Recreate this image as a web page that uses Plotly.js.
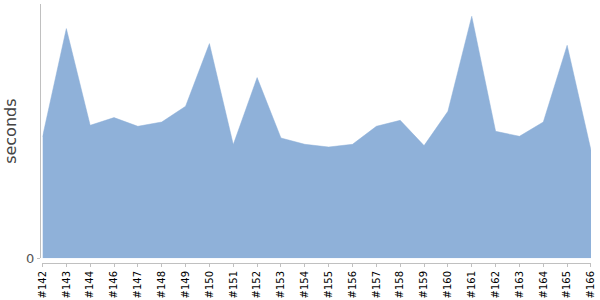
<!DOCTYPE html>
<html>
<head>
<meta charset="utf-8">
<script src="https://cdn.plot.ly/plotly-3.0.1.min.js"></script>
<style>html,body{margin:0;padding:0;background:#fff;}#chart{width:600px;height:300px;}</style>
</head>
<body>
<div id="chart"></div>
<script>
const builds = ["#142","#143","#144","#146","#147","#148","#149","#150","#151","#152","#153","#154","#155","#156","#157","#158","#159","#160","#161","#162","#163","#164","#165","#166"];
const seconds = [121.3,229.7,133,140.7,132,136.3,152,214.7,113.7,180.7,120.3,114,111.3,114,132,138,112.7,147,242,127,122,136.3,213,108];
const yTickVals = [0];
const yTickText = ["0"];

const trace = {
  x: builds,
  y: seconds,
  type: "scatter",
  mode: "lines",
  fill: "tozeroy",
  fillcolor: "rgb(143,177,217)",
  line: {color: "rgb(143,177,217)", width: 0.5},
  hoverinfo: "x+y"
};

const layout = {
  width: 600, height: 300,
  margin: {l: 40, r: 9, t: 4, b: 37},
  paper_bgcolor: "#fff", plot_bgcolor: "#fff",
  showlegend: false,
  font: {family: "DejaVu Sans, sans-serif"},
  xaxis: {
    type: "category",
    domain: [0.0045, 1],
    anchor: "free", position: 0,
    range: [0, builds.length - 1],
    showgrid: false, zeroline: false,
    showline: true, linecolor: "#c0c0c0", linewidth: 1,
    ticks: "outside", ticklen: 3, tickcolor: "#c0c0c0",
    tickangle: -90,
    tickfont: {size: 10, color: "#000"},
    automargin: false,
    fixedrange: true
  },
  yaxis: {
    domain: [0.018, 1],
    anchor: "free", position: 0,
    range: [0, 254.3],
    tickvals: yTickVals, ticktext: yTickText,
    showgrid: false, zeroline: false,
    showline: true, linecolor: "#c0c0c0", linewidth: 1,
    ticks: "outside", ticklen: 3, tickcolor: "#c0c0c0",
    tickfont: {size: 13, color: "#555"},
    title: {text: "seconds", font: {size: 16, color: "#444"}, standoff: 4},
    automargin: false,
    fixedrange: true
  }
};

Plotly.newPlot("chart", [trace], layout, {displayModeBar: false, staticPlot: true});
</script>
</body>
</html>
